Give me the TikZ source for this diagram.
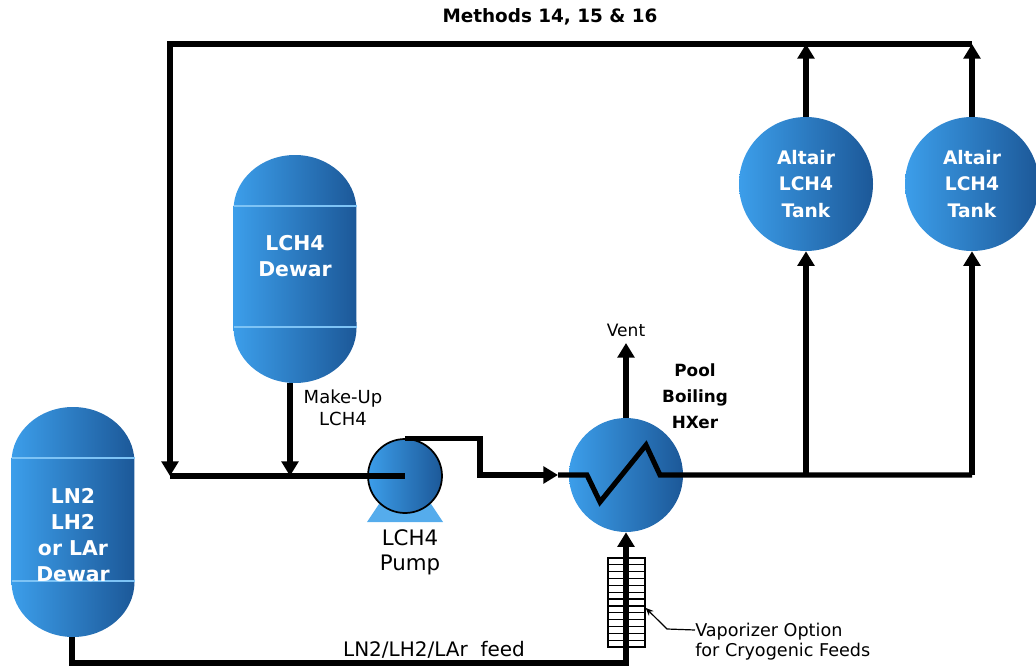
\documentclass[tikz,border=0pt]{standalone}
\usepackage{fontspec}
\setmainfont{DejaVu Sans}
\usetikzlibrary{arrows.meta}

\definecolor{tanklight}{RGB}{60,158,234}
\definecolor{tankdark}{RGB}{28,88,152}
\definecolor{tankline}{RGB}{125,195,245}
\definecolor{pumpbase}{RGB}{85,172,236}

% capsule dewar: centre x, top y, bottom y
\newcommand{\dewar}[3]{%
  \shade[left color=tanklight,right color=tankdark]
    (#1-61.5,#2+55) arc[start angle=180,end angle=0,x radius=46.1pt,y radius=41.25pt]
    -- (#1+61.5,#3-55) arc[start angle=0,end angle=-180,x radius=46.1pt,y radius=41.25pt] -- cycle;
  \draw[tankline,line width=0.8pt] (#1-61.5,#2+51) -- (#1+61.5,#2+51);
  \draw[tankline,line width=0.8pt] (#1-61.5,#3-56) -- (#1+61.5,#3-56);
}

\begin{document}
\begin{tikzpicture}
  [x=0.75pt,y=-0.75pt,every node/.style={inner sep=0pt},
   pipe/.style={line width=3.8pt},
   flow/.style={pipe,-{Triangle[length=11pt,width=12.5pt]}},
   vessel/.style={circle,left color=tanklight,right color=tankdark,text=white,
     font=\bfseries\fontsize{14}{20}\selectfont,align=center},
   dewartxt/.style={text=white,align=center,font=\bfseries\fontsize{15.3}{19.5}\selectfont},
   note/.style={align=center,font=\fontsize{13.5}{16.5}\selectfont}]
  \useasboundingbox (0,0) rectangle (1036,667);

  % vessels
  \dewar{295}{155}{383}
  \dewar{73}{407}{637}
  \node[dewartxt] (lcd) at (295,256) {LCH4\\Dewar};
  \node[dewartxt] (lnd) at (73,535) {LN2\\LH2\\or LAr\\Dewar};
  \node[vessel,minimum size=100.5pt] (tk1) at (806,184) {Altair\\LCH4\\Tank};
  \node[vessel,minimum size=100.5pt] (tk2) at (972,184) {Altair\\LCH4\\Tank};
  \node[vessel,minimum size=85.5pt] (hx) at (626,475) {};

  % vaporizer
  \node[draw,line width=0.9pt,minimum width=27.75pt,minimum height=66.75pt] (vap) at (626.5,602.5) {};
  \foreach \k in {1,...,12}
    \draw[line width=0.9pt] (608,558+\k*89/13) -- (645,558+\k*89/13);

  \coordinate (topL) at (170,44);
  \coordinate (topR) at (972,44);
  \coordinate (top1) at (806,44);
  \coordinate (mixL) at (170,476);
  \coordinate (mixM) at (290,476);
  \coordinate (lcdout) at (290,383);
  \coordinate (lndout) at (72,637);
  \coordinate (bend) at (480,475);
  \coordinate (hxin) at (558,475);
  \coordinate (tee1) at (806,475);
  \coordinate (tee2) at (972,475);
  \coordinate (ventend) at (626,343);
  \coordinate (feedc) at (626,663);
  \coordinate (vapknee) at (667,629);

  % pump
  \fill[pumpbase] (367,522) -- (443,522) -- (427,498) -- (383,498) -- cycle;
  \node[vessel,draw=black,line width=1.3pt,minimum size=55.5pt] (pump) at (405,476) {};

  % lines
  \draw[flow] (topR) -| (mixL);
  \foreach \from/\to in {tk1/top1,tk2/topR,tee1/tk1,tee2/tk2,hx/ventend,lcdout/mixM}
    \draw[flow] (\from) -- (\to);
  \draw[pipe] (mixL) -- (pump.center);
  \draw[flow] (pump.north) -| (bend) -- (hxin);
  \draw[pipe] (hxin) -- (587,475) -- (600,502) -- (646,445) -- (660,475) -- (tee2);
  \draw[flow] (lndout) |- (feedc) -- (hx);

  % texts
  \node[font=\bfseries\fontsize{13.8}{16}\selectfont] (title) at (550,17) {Methods 14, 15 \& 16};
  \node[note,font=\fontsize{12.8}{15}\selectfont] (vent) at (626,330) {Vent};
  \node[note,font=\bfseries\fontsize{12.6}{19.5}\selectfont] (hxlbl) at (695,396) {Pool\\Boiling\\HXer};
  \node[note] (mulbl) at (343,408) {Make-Up\\LCH4};
  \node[note,font=\fontsize{16}{18.75}\selectfont] (pumplbl) at (410,552) {LCH4\\Pump};
  \node[note,font=\fontsize{15}{17}\selectfont] (feedlbl) at (434,650) {LN2/LH2/LAr\ \ feed};
  \node[note,anchor=west,align=left,font=\fontsize{13.2}{15}\selectfont] (vaptxt) at (695,642)
    {Vaporizer Option\\for Cryogenic Feeds};
  \draw[line width=0.9pt,-{Stealth[length=6pt,width=5pt]}]
    ([yshift=9pt]vaptxt.west) -- (vapknee) -- ([yshift=-4pt]vap.east);

\end{tikzpicture}
\end{document}
